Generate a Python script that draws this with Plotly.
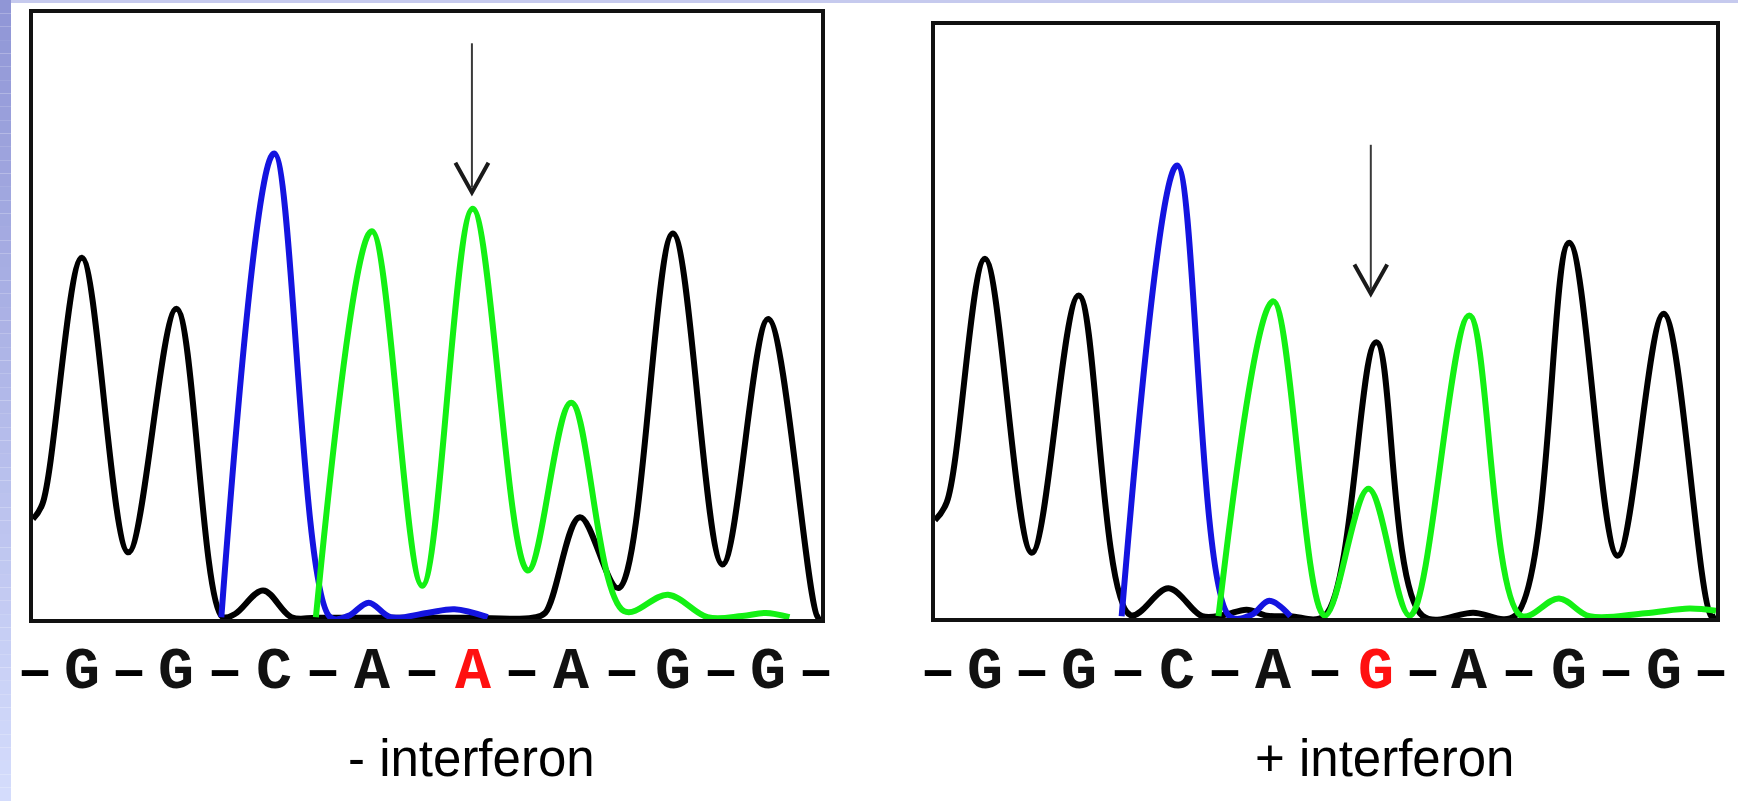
import plotly.graph_objects as go

W, H = 1738, 801

# ---------------- data (scan position 0-100, signal 0-100) ----------------
# Left panel: - interferon
L_G_x = [0, 1.2, 6.2, 12.1, 18.2, 24.0, 25.6, 29.2, 32.8, 36, 45, 55, 63.4, 65.0, 69.4, 74.3, 81.2, 87.5, 93.3, 99.6, 100]
L_G_y = [16.5, 19.0, 59.6, 11.0, 51.2, 0.4, 0.8, 4.7, 0.3, 0.2, 0.2, 0.2, 0.2, 1.0, 16.8, 5.1, 63.6, 9.0, 49.5, 0.3, 0.3]
L_C_x = [23.9, 30.6, 37.7, 40.0, 42.6, 45.4, 50.0, 53.5, 57.7]
L_C_y = [0.3, 76.8, 0.3, 0.5, 2.7, 0.3, 1.0, 1.6, 0.3]
L_A_x = [35.9, 43.0, 49.4, 55.8, 62.8, 68.3, 75.0, 80.6, 85.6, 90.0, 93.0, 96.0]
L_A_y = [0.3, 64.0, 5.5, 67.7, 8.0, 35.7, 1.3, 4.0, 0.3, 0.5, 1.0, 0.3]

# Right panel: + interferon
R_G_x = [0, 1.5, 6.4, 12.4, 18.4, 25.0, 29.9, 34.2, 37.0, 39.9, 42.5, 45.5, 49.9, 56.5, 62.4, 68.9, 74.3, 81.2, 87.4, 93.3, 99.4, 100]
R_G_y = [16.5, 19.5, 60.6, 11.0, 54.4, 0.5, 5.0, 0.3, 0.5, 1.4, 0.4, 0.3, 0.4, 46.5, 0.4, 0.9, 0.4, 63.3, 10.5, 51.3, 0.3, 0.3]
R_C_x = [23.9, 31.0, 37.7, 40.5, 42.8, 45.5]
R_C_y = [0.3, 76.3, 0.3, 0.5, 2.9, 0.3]
R_A_x = [36.3, 43.3, 49.9, 55.5, 60.8, 68.4, 75.0, 79.9, 83.8, 90.9, 96.6, 100]
R_A_y = [0.3, 53.4, 0.4, 21.8, 0.4, 51.0, 0.4, 3.3, 0.3, 0.8, 1.6, 1.2]

# base calls
L_bases = ["G", "G", "C", "A", "A", "A", "G", "G"]
L_base_pos = [6.2, 18.2, 30.6, 43.0, 55.8, 68.3, 81.2, 93.3]
L_highlight = 4
R_bases = ["G", "G", "C", "A", "G", "A", "G", "G"]
R_base_pos = [6.4, 18.4, 31.0, 43.3, 56.5, 68.4, 81.2, 93.3]
R_highlight = 4

panel_labels = ["- interferon", "+ interferon"]
label_pos = [55.6, 57.6]

# arrows: (x, y_top, y_tip)
L_arrow = (55.7, 95.0, 70.4)
R_arrow = (55.8, 79.8, 54.7)

# ---------------- figure ----------------
BLACK = "#000000"
BLUE = "#1414e0"
GREEN = "#14f014"
LW = 6

fig = go.Figure()

def add_trace(x, y, color, xa, ya):
    fig.add_trace(go.Scatter(x=x, y=y, mode="lines", xaxis=xa, yaxis=ya,
                             line=dict(color=color, width=LW, shape="spline", smoothing=1.0),
                             hoverinfo="skip", showlegend=False))

add_trace(L_G_x, L_G_y, BLACK, "x", "y")
add_trace(L_C_x, L_C_y, BLUE, "x", "y")
add_trace(L_A_x, L_A_y, GREEN, "x", "y")
add_trace(R_G_x, R_G_y, BLACK, "x2", "y2")
add_trace(R_C_x, R_C_y, BLUE, "x2", "y2")
add_trace(R_A_x, R_A_y, GREEN, "x2", "y2")

def px_x(p):
    return p / W

def px_y(p):
    return 1 - p / H

axis_common = dict(range=[0, 100], showgrid=False, zeroline=False, showticklabels=False,
                   ticks="", showline=True, linecolor="#111111", linewidth=3.5, mirror=True, fixedrange=True)

fig.update_layout(
    width=W, height=H,
    margin=dict(l=0, r=0, t=0, b=0),
    paper_bgcolor="white", plot_bgcolor="white",
    xaxis=dict(domain=[px_x(33), px_x(821)], anchor="y", **axis_common),
    yaxis=dict(domain=[px_y(619), px_y(13)], anchor="x", **axis_common),
    xaxis2=dict(domain=[px_x(935), px_x(1716)], anchor="y2", **axis_common),
    yaxis2=dict(domain=[px_y(618), px_y(25)], anchor="x2", **axis_common),
)

shapes = []
# lavender slide edge: left gradient strip + top strip
N = 60
c_top = (0x90, 0x96, 0xd6)
c_bot = (0xd4, 0xdc, 0xfc)
for i in range(N):
    t = i / (N - 1)
    col = tuple(int(round(c_top[k] + (c_bot[k] - c_top[k]) * t)) for k in range(3))
    shapes.append(dict(type="rect", xref="paper", yref="paper", layer="below",
                       x0=0, x1=px_x(11), y0=1 - (i + 1) / N, y1=1 - i / N,
                       line=dict(width=0), fillcolor="rgb(%d,%d,%d)" % col))
shapes.append(dict(type="rect", xref="paper", yref="paper", layer="below",
                   x0=px_x(11), x1=1, y0=px_y(3), y1=1, line=dict(width=0), fillcolor="#c6caee"))

def add_arrow(a, xr, yr):
    x, yt, yb = a
    shapes.append(dict(type="line", xref=xr, yref=yr, x0=x, x1=x, y0=yt, y1=yb + 0.8,
                       line=dict(color="#3a3a3a", width=2)))
    shapes.append(dict(type="path", xref=xr, yref=yr,
                       path="M %f,%f L %f,%f L %f,%f" % (x - 2.1, yb + 4.9, x, yb, x + 2.1, yb + 4.9),
                       line=dict(color="#1a1a1a", width=4)))

add_arrow(L_arrow, "x", "y")
add_arrow(R_arrow, "x2", "y2")
fig.update_layout(shapes=shapes)

annotations = []
SEQ_Y = px_y(672)
LAB_Y = px_y(758)
seq_font = dict(family="Liberation Mono, DejaVu Sans Mono, monospace", size=60)

def add_sequence(bases, pos, hi, xr):
    # dashes: leading, between, trailing
    dash_x = [pos[0] - (pos[1] - pos[0]) / 2]
    dash_x += [(pos[i] + pos[i + 1]) / 2 for i in range(len(pos) - 1)]
    dash_x += [pos[-1] + (pos[-1] - pos[-2]) / 2]
    for dx in dash_x:
        annotations.append(dict(x=dx, y=SEQ_Y, xref=xr, yref="paper", text="<b>–</b>",
                                showarrow=False, xanchor="center", yanchor="middle",
                                font=dict(color="black", **seq_font)))
    for i, (b, p) in enumerate(zip(bases, pos)):
        annotations.append(dict(x=p, y=SEQ_Y, xref=xr, yref="paper", text="<b>%s</b>" % b,
                                showarrow=False, xanchor="center", yanchor="middle",
                                font=dict(color="#ff1010" if i == hi else "#111111", **seq_font)))

add_sequence(L_bases, L_base_pos, L_highlight, "x")
add_sequence(R_bases, R_base_pos, R_highlight, "x2")

for lab, lp, xr in zip(panel_labels, label_pos, ["x", "x2"]):
    annotations.append(dict(x=lp, y=LAB_Y, xref=xr, yref="paper", text=lab, showarrow=False,
                            xanchor="center", yanchor="middle",
                            font=dict(family="Liberation Sans Narrow, Liberation Sans, Arial, sans-serif",
                                      size=51, color="black")))

fig.update_layout(annotations=annotations)

fig.write_html("out.html", config={"displayModeBar": False},
               post_script="document.body.style.margin='0';document.body.style.overflow='hidden';")
